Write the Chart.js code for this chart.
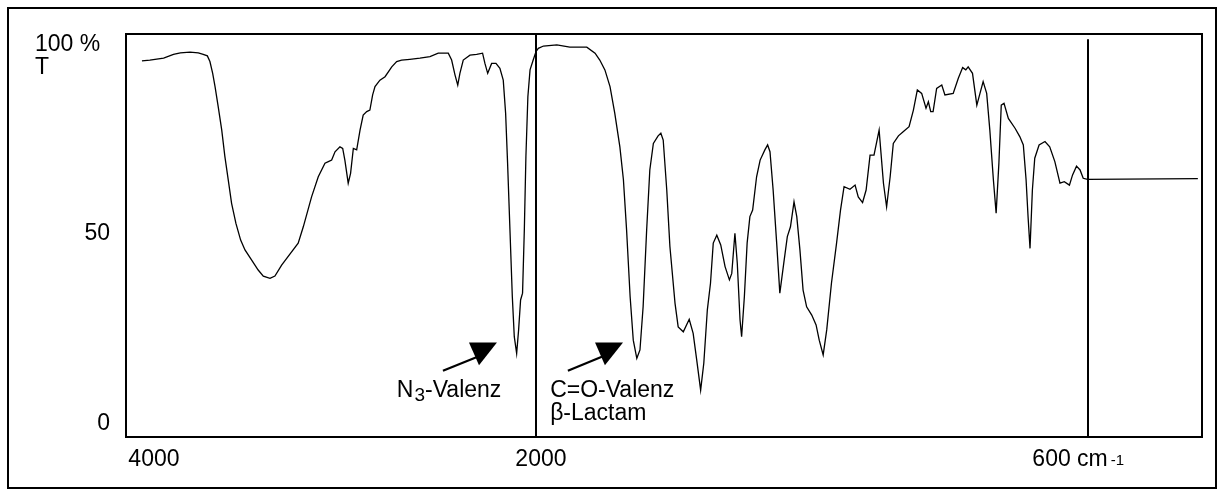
<!DOCTYPE html>
<html>
<head>
<meta charset="utf-8">
<script src="https://cdn.jsdelivr.net/npm/chart.js@4.4.0/dist/chart.umd.min.js"></script>
<style>
  html, body { margin: 0; padding: 0; background: #fff; }
  canvas { display: block; }
</style>
</head>
<body>
<canvas id="irChart" width="1223" height="494"></canvas>
<script>
// IR spectrum, wavenumber in cm-1, transmittance in %
const wavenumbers = [
  4000, 3960, 3890, 3840, 3805, 3756, 3714, 3689, 3668, 3655, 3641, 3629, 3613, 3595, 3579, 3562,
  3545, 3523, 3499, 3477, 3443, 3410, 3384, 3350, 3325, 3291, 3249, 3207, 3181, 3139, 3105, 3071,
  3054, 3037, 3020, 2995, 2981, 2970, 2953, 2941, 2927, 2910, 2893, 2877, 2859, 2843, 2829, 2817,
  2792, 2766, 2732, 2707, 2682, 2640, 2589, 2538, 2496, 2445, 2428, 2411, 2397, 2386, 2369, 2335,
  2301, 2271, 2259, 2245, 2225, 2203, 2183, 2166, 2154, 2144, 2132, 2120, 2110, 2098, 2088, 2078,
  2068, 2059, 2051, 2041, 2030, 2014, 2000,
  1994, 1981, 1947, 1914, 1871, 1850, 1838, 1825, 1812, 1800, 1787, 1778, 1770, 1761, 1753, 1744,
  1736, 1728, 1719, 1711, 1702, 1690, 1683, 1677, 1668, 1660, 1647, 1639, 1626, 1611, 1601, 1592,
  1582, 1574, 1565, 1557, 1550, 1541, 1531, 1520, 1509, 1503, 1495, 1489, 1482, 1478, 1471, 1464,
  1457, 1450, 1440, 1431, 1419, 1412, 1406, 1398, 1389, 1381, 1371, 1362, 1354, 1345, 1338, 1330,
  1322, 1313, 1300, 1289, 1281, 1271, 1262, 1250, 1237, 1227, 1218, 1203, 1190, 1182, 1171, 1162,
  1152, 1142, 1129, 1118, 1110, 1101, 1093, 1080, 1068, 1053, 1042, 1032, 1021, 1010, 1004, 998,
  992, 983, 970, 962, 941, 928, 917, 909, 903, 892, 881, 873, 865, 856, 848, 839,
  832, 825, 819, 812, 801, 784, 772, 763, 756, 751, 746, 740, 734, 723, 708, 696,
  683, 670, 659, 646, 638, 628, 619, 611, 600, 320
];
const transmittance = [
  95.3, 95.5, 96.0, 97.0, 97.4, 97.6, 97.4, 97.0, 96.6, 95.1, 92.0, 88.5, 83.2, 77.0, 70.0, 63.9,
  57.7, 52.4, 48.0, 45.4, 42.7, 40.1, 38.5, 37.9, 38.5, 41.4, 44.3, 47.2, 51.5, 59.4, 64.7, 68.3,
  68.7, 69.1, 71.3, 72.6, 72.2, 69.1, 63.0, 65.6, 72.2, 71.8, 77.0, 81.0, 81.9, 82.3, 86.3, 88.5,
  90.2, 91.1, 93.7, 95.1, 95.5, 95.7, 96.0, 96.4, 97.3, 97.3, 95.5, 91.6, 88.9, 92.0, 95.5, 96.8,
  97.0, 97.3, 94.6, 92.0, 94.6, 94.6, 93.3, 90.2, 81.5, 68.3, 50.7, 33.1, 22.5, 18.1, 24.3, 32.2,
  34.0, 50.7, 70.0, 85.8, 92.9, 95.5, 97.7,
  98.6, 99.2, 99.5, 98.9, 98.9, 97.3, 95.5, 92.9, 88.5, 81.5, 72.6, 63.9, 50.7, 33.1, 21.6, 16.8,
  19.0, 30.4, 50.7, 66.5, 73.5, 75.5, 76.2, 74.4, 61.2, 46.3, 31.3, 25.1, 23.8, 27.1, 23.4, 16.4,
  8.4, 15.5, 29.6, 36.6, 47.2, 49.3, 46.7, 41.0, 37.5, 39.2, 49.8, 41.9, 26.9, 22.5, 33.1, 47.2,
  54.2, 55.9, 64.7, 69.1, 71.8, 73.1, 71.3, 61.2, 47.2, 34.0, 41.9, 48.9, 51.5, 58.1, 54.2, 45.4,
  34.8, 30.4, 28.2, 25.6, 21.6, 17.7, 24.3, 36.6, 47.2, 55.9, 62.1, 61.4, 62.5, 59.4, 57.9, 61.2,
  70.4, 70.4, 77.0, 63.0, 56.8, 64.7, 73.5, 75.5, 76.6, 77.9, 82.3, 87.6, 86.7, 82.8, 84.5, 81.9,
  81.9, 88.0, 88.9, 86.3, 86.7, 90.7, 93.5, 92.9, 93.7, 92.0, 83.6, 86.7, 89.8, 86.7, 77.0, 63.9,
  55.1, 68.3, 83.6, 84.1, 80.1, 77.5, 75.3, 73.1, 63.9, 54.2, 45.8, 61.2, 69.6, 73.1, 74.0, 72.6,
  68.7, 63.0, 63.4, 62.5, 65.2, 67.5, 66.5, 64.3, 64.0, 64.2
];
const xTicks = [4000, 2000, 600];
const xTickLabels = ['4000', '2000', '600'];
const yTicks = [0, 50, 100];
const yTickLabels = ['0', '50', '100 %'];
const splitLines = [2000, 600];

// below 2000 cm-1 the axis is stretched by a factor 2
function pos(w) {
  return w >= 2000 ? 4000 - w : 2000 + 2 * (2000 - w);
}

const FONT = '"Liberation Sans", Arial, Helvetica, sans-serif';

const irDecor = {
  id: 'irDecor',
  afterDraw(chart) {
    const ctx = chart.ctx;
    const area = chart.chartArea;
    const xs = chart.scales.x;
    const ys = chart.scales.y;
    const px = w => xs.getPixelForValue(pos(w));
    const py = t => ys.getPixelForValue(t);

    ctx.save();
    ctx.strokeStyle = '#000';
    ctx.fillStyle = '#000';

    // outer border + plot frame
    ctx.lineWidth = 2;
    ctx.strokeRect(8, 8, chart.width - 15, chart.height - 14);
    ctx.strokeRect(area.left, area.top, area.right - area.left, area.bottom - area.top);

    // split lines at 2000 and 600
    splitLines.forEach((w, i) => {
      const x = Math.round(px(w));
      ctx.beginPath();
      ctx.moveTo(x, i === 0 ? area.top : py(101));
      ctx.lineTo(x, area.bottom);
      ctx.stroke();
    });

    // x tick labels
    const nudge = [12, 5, -36];
    ctx.font = '23px ' + FONT;
    ctx.textBaseline = 'alphabetic';
    ctx.textAlign = 'center';
    const xBase = area.bottom + 29;
    xTicks.forEach((v, i) => {
      const x = px(v) + nudge[i];
      ctx.fillText(xTickLabels[i], x, xBase);
      if (v === 600) {
        ctx.textAlign = 'left';
        const right = x + ctx.measureText(xTickLabels[i]).width / 2;
        ctx.fillText(' cm', right, xBase);
        const cmRight = right + ctx.measureText(' cm').width;
        ctx.font = '15px ' + FONT;
        ctx.fillText('-1', cmRight + 3, xBase - 1);
        ctx.font = '23px ' + FONT;
        ctx.textAlign = 'center';
      }
    });

    // y tick labels
    yTicks.forEach((v, i) => {
      const y = py(v) + 8;
      if (v === 100) {
        ctx.textAlign = 'left';
        ctx.fillText(yTickLabels[i], area.left - 91, y);
        ctx.fillText('T', area.left - 91, y + 23);
      } else {
        ctx.textAlign = 'right';
        ctx.fillText(yTickLabels[i], area.left - 16, y);
      }
    });

    // arrows
    const arrows = [
      { tail: [2472, 13.5], end: [2274, 17.7], head: [[2340, 21.0], [2198, 21.0], [2289, 15.0]] },
      { tail: [1919, 13.5], end: [1822, 17.7], head: [[1850, 21.0], [1779, 21.0], [1825, 15.0]] }
    ];
    ctx.lineWidth = 2.2;
    arrows.forEach(a => {
      ctx.beginPath();
      ctx.moveTo(px(a.tail[0]), py(a.tail[1]));
      ctx.lineTo(px(a.end[0]), py(a.end[1]));
      ctx.stroke();
      ctx.beginPath();
      a.head.forEach((p, k) => {
        if (k === 0) ctx.moveTo(px(p[0]), py(p[1]));
        else ctx.lineTo(px(p[0]), py(p[1]));
      });
      ctx.closePath();
      ctx.fill();
    });

    // band labels
    ctx.textAlign = 'left';
    let x = px(2706);
    const yb = py(6.6);
    ctx.font = '23px ' + FONT;
    ctx.fillText('N', x, yb);
    x += ctx.measureText('N').width;
    ctx.font = '19px ' + FONT;
    ctx.fillText('3', x + 1, yb + 4.5);
    x += ctx.measureText('3').width + 1;
    ctx.font = '23px ' + FONT;
    ctx.fillText('-Valenz', x, yb);

    ctx.fillText('C=O-Valenz', px(1964), yb);
    ctx.fillText('\u03B2-Lactam', px(1964), py(0.5));

    ctx.restore();
  }
};

new Chart(document.getElementById('irChart'), {
  type: 'line',
  data: {
    datasets: [{
      data: wavenumbers.map((w, i) => ({ x: pos(w), y: transmittance[i] })),
      borderColor: '#000',
      borderWidth: 1.3,
      pointRadius: 0,
      tension: 0,
      fill: false
    }]
  },
  options: {
    responsive: false,
    animation: false,
    events: [],
    layout: { padding: { left: 126, right: 21, top: 34, bottom: 57 } },
    plugins: {
      legend: { display: false },
      tooltip: { enabled: false }
    },
    scales: {
      x: { type: 'linear', display: false, min: -81, max: 5381 },
      y: { type: 'linear', display: false, min: -3.96, max: 102.37 }
    }
  },
  plugins: [irDecor]
});
</script>
</body>
</html>
